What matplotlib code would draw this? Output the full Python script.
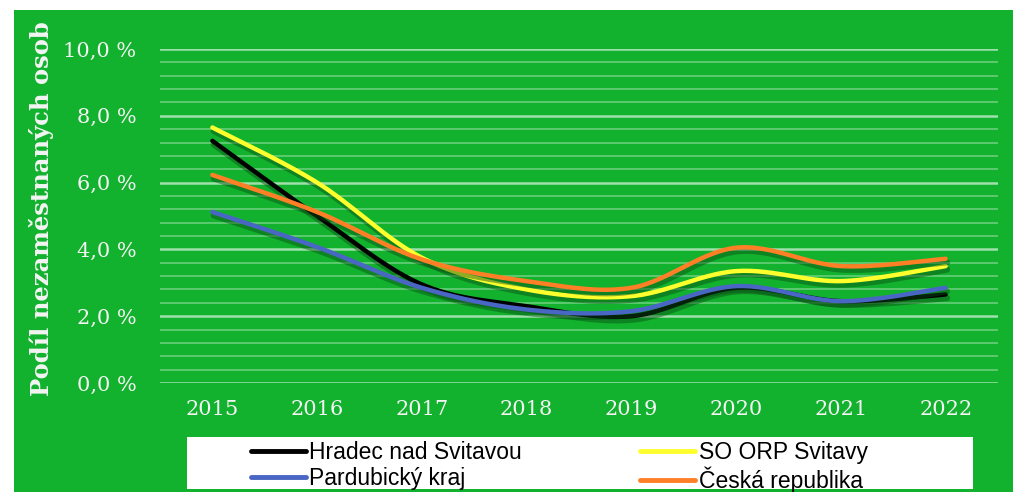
import numpy as np
import matplotlib
matplotlib.use('Agg')
import matplotlib.pyplot as plt
import matplotlib.patheffects as pe
from matplotlib.patches import Rectangle
from matplotlib.lines import Line2D
from matplotlib.ticker import MultipleLocator, FuncFormatter

years = ['2015', '2016', '2017', '2018', '2019', '2020', '2021', '2022']
hradec = [7.25, 5.0, 2.95, 2.3, 2.0, 2.85, 2.45, 2.65]
orp_svitavy = [7.65, 6.0, 3.75, 2.8, 2.6, 3.35, 3.05, 3.5]
pardubicky = [5.12, 4.07, 2.85, 2.2, 2.15, 2.9, 2.45, 2.85]
cesko = [6.23, 5.12, 3.7, 3.05, 2.85, 4.05, 3.5, 3.72]

labels = ['Hradec nad Svitavou', 'SO ORP Svitavy', 'Pardubický kraj', 'Česká republika']
colors = ['#000000', '#FFFF2E', '#4A66C4', '#FF7F27']
series = [hradec, orp_svitavy, pardubicky, cesko]

GREEN = '#12B22E'
TXT = '#F4F4F4'


def smooth(xs, ys, n=30):
    # catmull-rom like excel "smoothed line"
    p = np.column_stack([xs, ys]).astype(float)
    p = np.vstack([p[0], p, p[-1]])
    out = []
    for i in range(1, len(p) - 2):
        p0, p1, p2, p3 = p[i - 1], p[i], p[i + 1], p[i + 2]
        c1 = p1 + (p2 - p0) / 6.0
        c2 = p2 - (p3 - p1) / 6.0
        t = np.linspace(0, 1, n)[:, None]
        seg = (1 - t) ** 3 * p1 + 3 * (1 - t) ** 2 * t * c1 + 3 * (1 - t) * t ** 2 * c2 + t ** 3 * p2
        out.append(seg if i == 1 else seg[1:])
    out = np.vstack(out)
    return out[:, 0], out[:, 1]


fig = plt.figure(figsize=(10.13, 4.92), dpi=100)
fig.patch.set_facecolor('white')
fig.patches.append(Rectangle((14 / 1013, 0), 1, 1 - 10 / 492, transform=fig.transFigure,
                             facecolor=GREEN, edgecolor='none', zorder=-5))

ax = fig.add_axes([160 / 1013, 1 - 383 / 492, 838 / 1013, 334 / 492])
ax.set_zorder(1)
ax.patch.set_alpha(0)
for s in ax.spines.values():
    s.set_visible(False)

ax.set_xlim(-0.5, len(years) - 0.5)
ax.set_ylim(0, 10)
ax.yaxis.set_major_locator(MultipleLocator(2))
ax.yaxis.set_minor_locator(MultipleLocator(0.4))
ax.yaxis.set_major_formatter(FuncFormatter(lambda v, p: ('%.1f %%' % v).replace('.', ',')))
ax.grid(True, which='minor', axis='y', color='white', alpha=0.4, linewidth=1.1)
ax.grid(True, which='major', axis='y', color='white', alpha=0.6, linewidth=1.8)
ax.set_axisbelow(True)

x = np.arange(len(years))
ax.set_xticks(x)
ax.set_xticklabels(years)
ax.tick_params(axis='both', which='both', length=0, colors=TXT, labelsize=15)
ax.tick_params(axis='y', pad=17)
ax.tick_params(axis='x', pad=12)
for t in ax.get_xticklabels() + ax.get_yticklabels():
    t.set_family('DejaVu Serif')

shadow = [pe.SimpleLineShadow(offset=(1.0, -2.5), shadow_color='#0a4a14', alpha=0.45, linewidth=4.5),
          pe.Normal()]
for vals, c, lab in zip(series, colors, labels):
    sx, sy = smooth(x, vals)
    ax.plot(sx, sy, color=c, linewidth=3.2, solid_capstyle='round', label=lab,
            path_effects=shadow, zorder=3)

fig.text(41 / 1013, 1 - 209 / 492, 'Podíl nezaměstnaných osob', rotation=90,
         ha='center', va='center', color=TXT, fontsize=17.5, fontweight='bold',
         family='DejaVu Serif', zorder=2)

# legend box
fig.patches.append(Rectangle((187 / 1013, 1 - 489 / 492), 786 / 1013, 52 / 492,
                             transform=fig.transFigure, facecolor='white',
                             edgecolor='none', zorder=1))
order = [0, 2, 1, 3]
handles = [Line2D([], [], color=colors[i], linewidth=3.5, solid_capstyle='round') for i in order]
leg = fig.legend(handles, [labels[i] for i in order], ncol=2, frameon=False,
                 loc='center left', bbox_to_anchor=(251 / 1013, 1 - 467 / 492),
                 bbox_transform=fig.transFigure, borderpad=0, borderaxespad=0,
                 handlelength=2.4, handletextpad=0.15, columnspacing=5.15,
                 labelspacing=0.15, prop={'family': 'Liberation Sans', 'size': 16.5})
leg.set_zorder(2)

fig.savefig('out.png', dpi=100)
